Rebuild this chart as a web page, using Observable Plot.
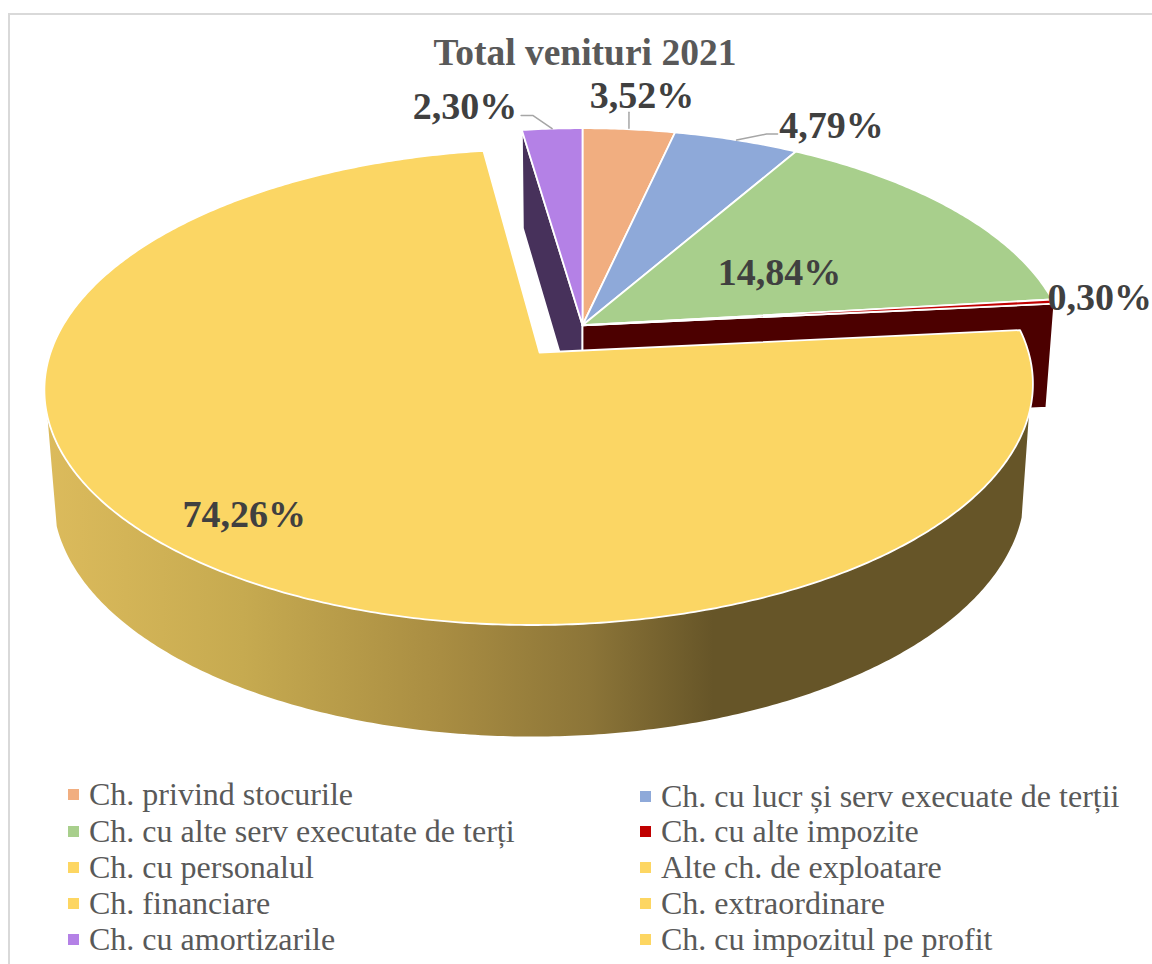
<!DOCTYPE html>
<html><head><meta charset="utf-8">
<script src="https://cdn.jsdelivr.net/npm/d3@7"></script>
<script src="https://cdn.jsdelivr.net/npm/@observablehq/plot@0.6"></script>
<style>
html,body{margin:0;padding:0;background:#fff}
body{width:1152px;height:964px;overflow:hidden;position:relative;font-family:"Liberation Serif",serif}
#frame{position:absolute;left:8px;top:13px;width:1144px;height:951px;border-left:2px solid #d9d9d9;border-top:2px solid #d9d9d9}
#title{position:absolute;left:0;top:34px;width:1170px;text-align:center;font-weight:bold;font-size:37.5px;line-height:38px;color:#595959}
#chart{position:absolute;left:0;top:72px}
.lg{position:absolute;font-size:32px;line-height:36px;color:#595959;white-space:nowrap}
.lg i{position:absolute;width:11px;height:11px;top:13px;left:-21px}
</style></head>
<body>
<div id="frame"></div>
<div id="title">Total venituri 2021</div>
<div id="chart"></div>
<div id="legend"></div>
<script>
const categories=["Ch. privind stocurile","Ch. cu lucr și serv execuate de terții","Ch. cu alte serv executate de terți","Ch. cu alte impozite","Ch. cu personalul","Ch. cu amortizarile"];
const shares=[3.52,4.79,14.84,0.30,74.26,2.30];
const shareLabels=["3,52%","4,79%","14,84%","0,30%","74,26%","2,30%"];
const sliceColors=["#f1ae80","#8ea9d9","#a8cf8c","#c00000","#fbd664","#b481e6"];
const legendLeft=["Ch. privind stocurile","Ch. cu alte serv executate de terți","Ch. cu personalul","Ch. financiare","Ch. cu amortizarile"];
const legendLeftColors=["#f1ae80","#a8cf8c","#fdd662","#fdd662","#b481e6"];
const legendRight=["Ch. cu lucr și serv execuate de terții","Ch. cu alte impozite","Alte ch. de exploatare","Ch. extraordinare","Ch. cu impozitul pe profit"];
const legendRightColors=["#8ea9d9","#c00000","#fdd662","#fdd662","#fdd662"];

// camera: a disc of radius 1, seen in perspective from above
const CX=582,CY=352,R=489,H=233,K=0.145,DEPTH=105.5,SLOPE=0.062,TAPER=0.983;
const REST=[0,-0.119],EXPLODED_CENTER=[-0.0878,0]; // slice centres on the disc plane
const EXPLODED=4;
const WALL_FROM=104*Math.PI/180,WALL_TO=254*Math.PI/180;
const TOP=72,W=1152,SVG_H=698;
function project(u,v){const s=1/(1-K*v);return [CX+R*u*s,CY+H*v*s];}
function projectBottom(u,v){const [x,y]=project(u,v);return [CX+(x-CX)*TAPER,y+DEPTH*(1+SLOPE*v)];}
const total=d3.sum(shares);
let acc=0;
const slices=shares.map((d,i)=>{
  const a0=acc/total*2*Math.PI; acc+=d; const a1=acc/total*2*Math.PI;
  const c=i===EXPLODED?EXPLODED_CENTER:REST;
  return {i,a0,a1,c,color:sliceColors[i],mid:(a0+a1)/2};
});
const disc=(s,a,r=1)=>[s.c[0]+r*Math.sin(a),s.c[1]-r*Math.cos(a)];
function arc(a0,a1){const n=Math.max(2,Math.ceil((a1-a0)/0.01));return d3.range(n+1).map(j=>a0+(a1-a0)*j/n);}
const topPoly=s=>[project(...s.c),...arc(s.a0,s.a1).map(a=>project(...disc(s,a)))].map(([x,y])=>({x,y}));
function cutFace(s,a){const o=disc(s,a);return [project(...s.c),project(...o),projectBottom(...o),projectBottom(...s.c)].map(([x,y])=>({x,y}));}
const wall=s=>arc(Math.max(s.a0,WALL_FROM),Math.min(s.a1,WALL_TO)).map(a=>{const d=disc(s,a),[x1,y1]=project(...d),[x2,y2]=projectBottom(...d);return {x1,y1,x2,y2};});

const red=slices[3],purple=slices[5],yellow=slices[EXPLODED];
const labelSpec=[
  {r:1,off:[13,-33],lead:[[0,-1],[0,-17]]},
  {r:1,off:[95,-14],lead:[[0,0],[30,-6],[41,-6]]},
  {r:0.6,off:[-33,19]},
  {r:1,off:[46.5,-3.5]},
  {r:0.6,off:[-98,44]},
  {r:1,off:[-87,-22],lead:[[0,0],[-19,-13],[-31,-13]]}
];
const anchors=slices.map((s,i)=>project(...disc(s,s.mid,labelSpec[i].r)));
const labelRows=slices.map((s,i)=>({x:anchors[i][0]+labelSpec[i].off[0],y:anchors[i][1]+labelSpec[i].off[1],t:shareLabels[i]}));
const leaders=slices.filter((s,i)=>labelSpec[i].lead).map(s=>labelSpec[s.i].lead.map(([dx,dy])=>({x:anchors[s.i][0]+dx,y:anchors[s.i][1]+dy})));

const wallStops=[[0.0,"#dcbb5c"],[0.2,"#c6aa50"],[0.4,"#a98d42"],[0.55,"#8c7538"],[0.675,"#665528"],[1,"#665528"]];
const stroke={stroke:"white",strokeWidth:1.8,strokeLinejoin:"round"};
const poly=(pts,fill)=>Plot.line(pts,{x:"x",y:"y",fill,curve:"linear-closed",...stroke});

const chart=Plot.plot({
  width:W,height:SVG_H,margin:0,
  style:{background:"transparent",overflow:"visible"},
  x:{domain:[0,W],range:[0,W],axis:null},
  y:{domain:[TOP,TOP+SVG_H],range:[0,SVG_H],axis:null},
  marks:[
    ()=>{const defs=d3.create("svg:defs");
      const g=defs.append("linearGradient").attr("id","wall").attr("gradientUnits","userSpaceOnUse")
        .attr("x1",45).attr("x2",1035).attr("y1",0).attr("y2",0);
      wallStops.forEach(([o,c])=>g.append("stop").attr("offset",o).attr("stop-color",c));
      return defs.node();},
    poly(cutFace(purple,purple.a0),"#47315b"),
    poly(cutFace(red,red.a1),"#4c0000"),
    ...slices.filter(s=>s.i!==EXPLODED).map(s=>poly(topPoly(s),s.color)),
    Plot.area(wall(yellow),{x1:"x1",y1:"y1",x2:"x2",y2:"y2",fill:"url(#wall)"}),
    poly(topPoly(yellow),yellow.color),
    ...leaders.map(l=>Plot.line(l,{x:"x",y:"y",stroke:"#a6a6a6",strokeWidth:1.5})),
    Plot.text(labelRows,{x:"x",y:"y",text:"t",fill:"#404040",fontFamily:"Liberation Serif",fontWeight:"bold",fontSize:38})
  ]
});
document.getElementById("chart").appendChild(chart);

const leg=document.getElementById("legend");
function column(names,colors,left,tops){
  names.forEach((n,i)=>{
    const d=document.createElement("div");d.className="lg";d.style.left=left+"px";d.style.top=tops[i]+"px";d.textContent=n;
    const m=document.createElement("i");m.style.background=colors[i];d.appendChild(m);leg.appendChild(d);
  });
}
column(legendLeft,legendLeftColors,89,[776,813,849,885,921]);
column(legendRight,legendRightColors,661,[778,813,849,885,921]);
</script>
</body></html>
